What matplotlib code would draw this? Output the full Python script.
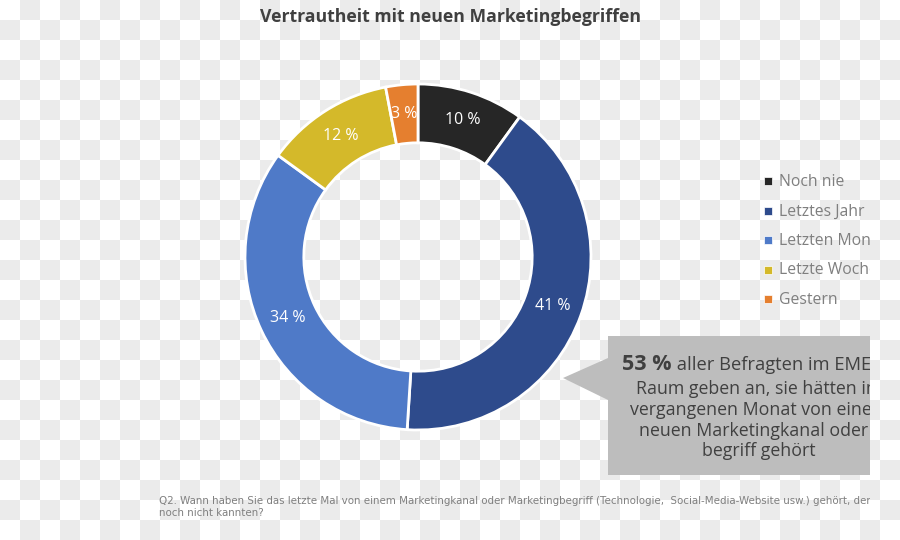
import numpy as np
import matplotlib.pyplot as plt
from matplotlib.patches import Polygon
from matplotlib.colors import ListedColormap

# data
categories = ['Noch nie', 'Letztes Jahr', 'Letzten Monat', 'Letzte Woche', 'Gestern']
shares = [10, 41, 34, 12, 3]
colors = ['#262626', '#2e4b8c', '#4f7ac8', '#d4b92a', '#e57f2f']

title = 'Vertrautheit mit neuen Marketingbegriffen'
callout_head = '53 %'
callout_first = 'aller Befragten im EMEA-'
callout_rest = 'Raum geben an, sie hätten im\nvergangenen Monat von einem\nneuen Marketingkanal oder -\nbegriff gehört'
footnote = ('Q2. Wann haben Sie das letzte Mal von einem Marketingkanal oder Marketingbegriff '
            '(Technologie,  Social-Media-Website usw.) gehört, der Sie\nnoch nicht kannten?')

W, H = 900, 540
fig = plt.figure(figsize=(W / 100, H / 100), dpi=100)

# background checkerboard (transparent-image look)
bg = fig.add_axes([0, 0, 1, 1])
nx, ny = W // 20 + 1, H // 20 + 1
board = np.add.outer(np.arange(ny), np.arange(nx)) % 2
bg.imshow(board, cmap=ListedColormap(['#ffffff', '#ebebeb']), extent=[0, nx * 20, ny * 20, 0],
          interpolation='nearest', zorder=0)
bg.set_xlim(0, W)
bg.set_ylim(H, 0)
bg.axis('off')

# donut
cx, cy, r = 418, 257, 173
pad = 1.03
ax = fig.add_axes([(cx - r * pad) / W, (H - cy - r * pad) / H, 2 * r * pad / W, 2 * r * pad / H])
wedges, texts, autotexts = ax.pie(
    shares, colors=colors, startangle=90, counterclock=False,
    radius=1, pctdistance=0.83,
    autopct=lambda p: f'{p:.0f} %',
    wedgeprops=dict(width=0.34, edgecolor='white', linewidth=2),
    textprops=dict(color='white', fontsize=11.5, family='Open Sans'))
ax.set_xlim(-pad, pad)
ax.set_ylim(-pad, pad)
ax.axis('off')

# overlay in pixel coordinates, clipped at the right edge like the source
ov = fig.add_axes([0, 0, 870 / W, 1])
ov.set_xlim(0, 870)
ov.set_ylim(H, 0)
ov.axis('off')
ov.patch.set_alpha(0)

ov.text(450, 17, title, ha='center', va='center', fontsize=12.7, fontweight='bold',
        color='#404040', family='Open Sans', clip_on=False)

# legend
for i, (lab, col) in enumerate(zip(categories, colors)):
    y = 181 + i * 29.5
    ov.scatter([768], [y], marker='s', s=30, color=col, edgecolors='white', linewidths=0.5, zorder=5)
    ov.text(779, y + 1, lab, ha='left', va='center', fontsize=11.3, color='#7f7f7f',
            family='Open Sans', clip_on=True)

# callout box with pointer
box = Polygon([(608, 336), (920, 336), (920, 475), (608, 475), (608, 400), (563, 378), (608, 358)],
              closed=True, facecolor='#bdbdbd', edgecolor='none', zorder=3)
ov.add_patch(box)
head = ov.text(622, 364, callout_head, ha='left', va='center', fontsize=15.5, fontweight='bold',
               color='#404040', family='Open Sans', clip_on=True, zorder=4)
ov.annotate(' ' + callout_first, xy=(1, 0.45), xycoords=head, ha='left', va='center',
            fontsize=13.2, color='#404040', family='Open Sans', annotation_clip=False,
            clip_on=True, zorder=4)
ov.text(759, 380, callout_rest, ha='center', va='top', fontsize=12.8, color='#404040',
        family='Open Sans', linespacing=1.2, clip_on=True, zorder=4)

# footnote
ov.text(159, 496, footnote, ha='left', va='top', fontsize=7.42, color='#7f7f7f',
        family='DejaVu Sans', linespacing=1.3, clip_on=True)

fig.savefig('out.png', dpi=100)
